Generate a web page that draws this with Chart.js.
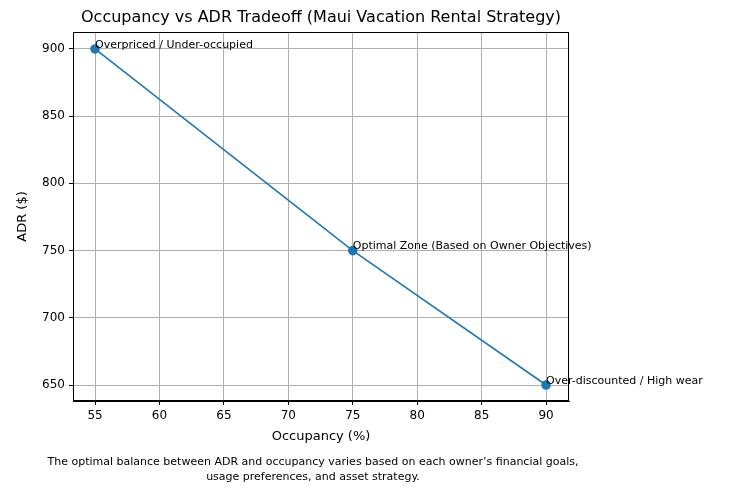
<!DOCTYPE html>
<html><head><meta charset="utf-8">
<script src="https://cdn.jsdelivr.net/npm/chart.js@4/dist/chart.umd.min.js"></script>
<style>html,body{margin:0;padding:0;background:#fff}</style>
</head><body><canvas id="c" width="735" height="493" style="width:735px;height:493px;display:block"></canvas>
<script>
const occupancy = [55, 75, 90];
const adr = [900, 750, 650];
const labels = ["Overpriced / Under-occupied", "Optimal Zone (Based on Owner Objectives)", "Over-discounted / High wear"];
const xTicks = [55, 60, 65, 70, 75, 80, 85, 90];
const yTicks = [650, 700, 750, 800, 850, 900];
const F = 'DejaVu Sans, sans-serif';

const extras = {
  id: 'extras',
  afterDraw(chart) {
    const ctx = chart.ctx, a = chart.chartArea, xs = chart.scales.x, ys = chart.scales.y;
    ctx.save();
    ctx.strokeStyle = '#000'; ctx.lineWidth = 1;
    ctx.strokeRect(a.left + 0.5, a.top + 0.5, a.right - a.left - 1, a.bottom - a.top - 1);
    ctx.fillStyle = '#000';
    ctx.textAlign = 'center'; ctx.textBaseline = 'middle';
    ctx.font = '16px ' + F;
    ctx.fillText('Occupancy vs ADR Tradeoff (Maui Vacation Rental Strategy)', (a.left + a.right) / 2, 18);
    ctx.font = '13px ' + F;
    ctx.fillText('Occupancy (%)', (a.left + a.right) / 2, 437);
    ctx.save(); ctx.translate(23, (a.top + a.bottom) / 2); ctx.rotate(-Math.PI / 2);
    ctx.fillText('ADR ($)', 0, 0); ctx.restore();
    ctx.font = '11px ' + F;
    ctx.fillText('The optimal balance between ADR and occupancy varies based on each owner\u2019s financial goals,', 313, 462);
    ctx.fillText('usage preferences, and asset strategy.', 313, 477);
    ctx.textAlign = 'left';
    for (let i = 0; i < labels.length; i++) {
      ctx.fillText(labels[i], xs.getPixelForValue(occupancy[i]), ys.getPixelForValue(adr[i]) - 4);
    }
    ctx.restore();
  }
};

new Chart(document.getElementById('c'), {
  type: 'line',
  data: { datasets: [{
    data: occupancy.map((x, i) => ({ x, y: adr[i] })),
    borderColor: '#1f77b4', backgroundColor: '#1f77b4', borderWidth: 1.6,
    pointRadius: 4, pointHoverRadius: 4, tension: 0
  }]},
  options: {
    responsive: false, animation: false, devicePixelRatio: 1,
    layout: { padding: { top: 32, right: 166, left: 0, bottom: 0 } },
    plugins: { legend: { display: false }, tooltip: { enabled: false } },
    scales: {
      x: { type: 'linear', min: 53.29, max: 91.78,
        afterBuildTicks: s => { s.ticks = xTicks.map(v => ({ value: v })); },
        afterFit: s => { s.height = 92; },
        grid: { color: '#b0b0b0', tickColor: '#000', tickLength: 4 },
        border: { color: '#000' },
        ticks: { color: '#000', font: { size: 12, family: F }, padding: 4, maxRotation: 0, autoSkip: false } },
      y: { type: 'linear', min: 638.1, max: 912.6,
        afterBuildTicks: s => { s.ticks = yTicks.map(v => ({ value: v })); },
        afterFit: s => { s.width = 73; },
        grid: { color: '#b0b0b0', tickColor: '#000', tickLength: 4 },
        border: { color: '#000' },
        ticks: { color: '#000', font: { size: 12, family: F }, padding: 4, autoSkip: false } }
    }
  },
  plugins: [extras]
});
</script>
</body></html>
